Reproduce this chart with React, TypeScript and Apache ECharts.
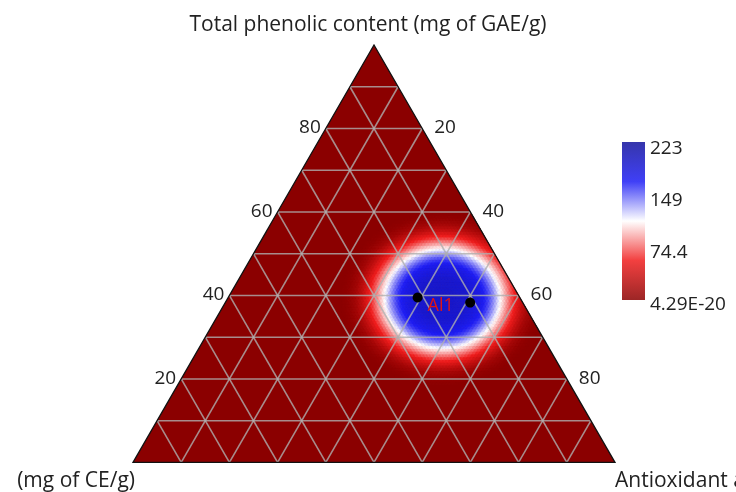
import React, { useEffect, useRef } from 'react';
import * as echarts from 'echarts';

// ---------- data ----------
const TOP_TITLE = 'Total phenolic content (mg of GAE/g)';
const LEFT_TITLE = 'Total flavonoid content (mg of CE/g)';
const RIGHT_TITLE = 'Antioxidant activity (%)';

const gridTicks = [10, 20, 30, 40, 50, 60, 70, 80, 90];
const leftTickLabels = [20, 40, 60, 80]; // total phenolic (T)
const rightTickLabels = [20, 40, 60, 80]; // antioxidant (A)

// sample points: T = phenolic, A = antioxidant (percent)
const pointNames = ['Al1', ''];
const pointT = [39.5, 38.3];
const pointA = [39.3, 50.8];

// interpolated surface: radial profile around the peak
const peakT = 39.3;
const peakA = 44.6;
const verticalSquash = 0.86;
const profileR = [0, 5.2, 7.9, 9.5, 10.8, 11.8, 12.9, 14.1, 15.4, 16.6, 18.0, 19.7, 21.2];
const profileV = [196, 190, 175, 158, 136, 115, 95, 72, 50, 30, 13, 3, 0];

const colorMin = 4.29e-20;
const colorMax = 223;
const colorStops = ['#8b0000', '#f01e1e', '#ffffff', '#1e1ef5', '#12129c'];
const colorbarTicks = [223, 149, 74.4, 4.29e-20];
const colorbarTickText = ['223', '149', '74.4', '4.29E-20'];

// ---------- layout ----------
const OX = 12;
const MESH = 150;
const S3 = Math.sqrt(3) / 2;
const FONT = '"Open Sans", "Noto Sans", sans-serif';
const TEXT_COLOR = '#222';

function tern(T: number, A: number): [number, number] {
  // T, A as fractions 0..1
  return [100 * (A + T / 2), 100 * T * S3];
}

function profileAt(r: number): number {
  if (r >= profileR[profileR.length - 1]) return 0;
  for (let i = 1; i < profileR.length; i++) {
    if (r <= profileR[i]) {
      const t = (r - profileR[i - 1]) / (profileR[i] - profileR[i - 1]);
      return profileV[i - 1] + t * (profileV[i] - profileV[i - 1]);
    }
  }
  return 0;
}

function buildCells() {
  const [cx, cy] = tern(peakT / 100, peakA / 100);
  const cells: number[][] = [];
  for (let i = 0; i < MESH; i++) {
    for (let k = 0; i + k < MESH; k++) {
      const tri = [
        { o: 0, v: [[i, k], [i, k + 1], [i + 1, k]] },
        { o: 1, v: [[i, k + 1], [i + 1, k], [i + 1, k + 1]] },
      ];
      for (const t of tri) {
        if (t.o === 1 && i + k + 2 > MESH) continue;
        let sx = 0;
        let sy = 0;
        for (const [a, b] of t.v) {
          const p = tern(a / MESH, b / MESH);
          sx += p[0];
          sy += p[1];
        }
        sx /= 3;
        sy /= 3;
        const dx = sx - cx;
        const dy = (sy - cy) / verticalSquash;
        const val = profileAt(Math.sqrt(dx * dx + dy * dy));
        if (val > 0.5) cells.push([i, k, t.o, val]);
      }
    }
  }
  return cells;
}

export default function App() {
  const ref = useRef<HTMLDivElement>(null);
  useEffect(() => {
    if (!ref.current) return;
    const chart = echarts.init(ref.current, undefined, { renderer: 'svg' });
    const cells = buildCells();
    const lat = (i: number, k: number) => tern(i / MESH, k / MESH);

    const barX = 622 - OX;
    const barY = 142;
    const barW = 23;
    const barH = 158;
    const labelY = (v: number) => 147 + ((colorMax - v) / colorMax) * 156;
    const titleFont = `21px ${FONT}`;

    const graphic: any[] = [
      {
        type: 'rect',
        shape: { x: barX, y: barY, width: barW, height: barH },
        style: {
          opacity: 0.85,
          fill: new echarts.graphic.LinearGradient(
            0, 0, 0, 1,
            colorStops
              .slice()
              .reverse()
              .map((c, idx) => ({ offset: idx / (colorStops.length - 1), color: c }))
          ),
        },
      },
      ...colorbarTicks.map((v, idx) => ({
        type: 'text',
        x: 650 - OX,
        y: labelY(v),
        style: {
          text: colorbarTickText[idx],
          fill: TEXT_COLOR,
          font: `19px ${FONT}`,
          align: 'left',
          verticalAlign: 'middle',
        },
      })),
      {
        type: 'text',
        x: 368 - OX,
        y: 23,
        style: { text: TOP_TITLE, fill: TEXT_COLOR, font: titleFont, align: 'center', verticalAlign: 'middle' },
      },
      {
        type: 'text',
        x: 135 - OX,
        y: 479,
        style: { text: LEFT_TITLE, fill: TEXT_COLOR, font: titleFont, align: 'right', verticalAlign: 'middle' },
      },
      {
        type: 'text',
        x: 615 - OX,
        y: 479,
        style: { text: RIGHT_TITLE, fill: TEXT_COLOR, font: titleFont, align: 'left', verticalAlign: 'middle' },
      },
    ];

    const frameItem = [[0, 0]];
    const triPts = (api: any) => [api.coord(tern(0, 0)), api.coord(tern(0, 1)), api.coord(tern(1, 0))];
    const tickLabel = (position: string, distance: number) => ({
      show: true,
      position,
      distance,
      offset: [0, -2],
      formatter: (p: any) => String(p.data[2]),
      color: TEXT_COLOR,
      opacity: 1,
      fontSize: 19,
      fontFamily: FONT,
    });

    chart.setOption({
      animation: false,
      grid: { left: 133 - OX, top: 45, width: 482, height: 482 * S3 },
      xAxis: { type: 'value', min: 0, max: 100, show: false },
      yAxis: { type: 'value', min: 0, max: 100 * S3, show: false },
      visualMap: {
        show: false,
        type: 'continuous',
        min: colorMin,
        max: colorMax,
        dimension: 3,
        seriesIndex: 1,
        inRange: { color: colorStops },
      },
      graphic,
      series: [
        {
          type: 'custom',
          z: 1,
          clip: false,
          silent: true,
          data: frameItem,
          renderItem: (_p: any, api: any) => ({
            type: 'polygon',
            shape: { points: triPts(api) },
            style: { fill: colorStops[0], stroke: colorStops[0], lineWidth: 0 },
          }),
        },
        {
          type: 'custom',
          z: 2,
          clip: false,
          silent: true,
          data: cells,
          renderItem: (_p: any, api: any) => {
            const i = api.value(0);
            const k = api.value(1);
            const o = api.value(2);
            const verts =
              o === 0
                ? [[i, k], [i, k + 1], [i + 1, k]]
                : [[i, k + 1], [i + 1, k], [i + 1, k + 1]];
            const pts = verts.map(([a, b]) => api.coord(lat(a, b)));
            const c = api.visual('color');
            return { type: 'polygon', shape: { points: pts }, style: { fill: c, stroke: c, lineWidth: 0.8 } };
          },
        },
        {
          type: 'custom',
          z: 3,
          clip: false,
          silent: true,
          data: gridTicks.map((v) => [v, 0]),
          renderItem: (_p: any, api: any) => {
            const p = api.value(0) / 100;
            const style = { stroke: 'rgba(175,175,175,0.8)', lineWidth: 1.6 };
            const seg = (a: [number, number], b: [number, number]) => {
              const s = api.coord(a);
              const e = api.coord(b);
              return { type: 'line', shape: { x1: s[0], y1: s[1], x2: e[0], y2: e[1] }, style };
            };
            return {
              type: 'group',
              children: [
                seg(tern(p, 0), tern(p, 1 - p)),
                seg(tern(0, p), tern(1 - p, p)),
                seg(tern(0, 1 - p), tern(1 - p, 0)),
              ],
            };
          },
        },
        {
          type: 'custom',
          z: 4,
          clip: false,
          silent: true,
          data: frameItem,
          renderItem: (_p: any, api: any) => ({
            type: 'polygon',
            shape: { points: triPts(api) },
            style: { fill: 'none', stroke: '#111', lineWidth: 1.3 },
          }),
        },
        {
          type: 'scatter',
          z: 5,
          silent: true,
          symbolSize: 0,
          itemStyle: { opacity: 1 },
          data: leftTickLabels.map((v) => [...tern(v / 100, 0), v]),
          label: tickLabel('left', 5),
        },
        {
          type: 'scatter',
          z: 5,
          silent: true,
          symbolSize: 0,
          itemStyle: { opacity: 1 },
          data: rightTickLabels.map((v) => [...tern(1 - v / 100, v / 100), v]),
          label: tickLabel('right', 12),
        },
        {
          type: 'scatter',
          z: 6,
          silent: true,
          symbol: 'circle',
          symbolSize: 10,
          itemStyle: { color: '#000', opacity: 1 },
          data: pointT.map((t, idx) => ({
            value: tern(t / 100, pointA[idx] / 100),
            name: pointNames[idx],
          })),
          label: {
            show: true,
            position: 'right',
            distance: 5,
            offset: [0, 6],
            formatter: (p: any) => p.name,
            color: '#e01414',
            opacity: 1,
            fontSize: 18,
            fontFamily: FONT,
          },
        },
      ],
    });
    return () => chart.dispose();
  }, []);
  return <div ref={ref} style={{ position: 'fixed', left: OX, top: 0, width: 736 - OX, height: 492 }} />;
}
